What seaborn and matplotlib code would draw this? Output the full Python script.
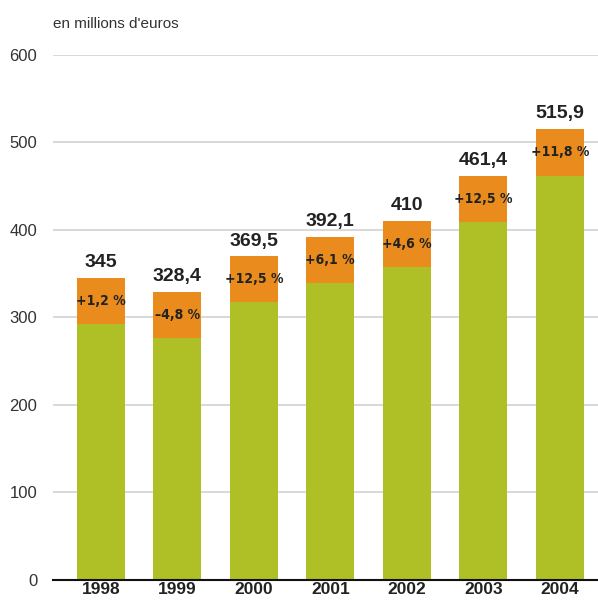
import matplotlib
matplotlib.use("Agg")
import matplotlib.pyplot as plt
import pandas as pd
import seaborn as sns

years = ["1998", "1999", "2000", "2001", "2002", "2003", "2004"]
totals = [345, 328.4, 369.5, 392.1, 410, 461.4, 515.9]
base = [292, 276, 317, 339, 357, 409, 462]
total_labels = ["345", "328,4", "369,5", "392,1", "410", "461,4", "515,9"]
pct_labels = ["+1,2 %", "–4,8 %", "+12,5 %", "+6,1 %", "+4,6 %", "+12,5 %", "+11,8 %"]

GREEN = "#afbf26"
ORANGE = "#ea8c1d"


def main() -> None:
    sns.set_theme(style="white")
    plt.rcParams["font.family"] = ["Liberation Sans", "DejaVu Sans"]

    df = pd.DataFrame({"year": years, "total": totals, "base": base})

    fig = plt.figure(figsize=(5.98, 6.0), dpi=100)
    ax = fig.add_axes([0.088, 1 - 579.5 / 600, 0.912, (579.5 - 55) / 600])

    # orange = total, green drawn over it
    sns.barplot(data=df, x="year", y="total", color=ORANGE, width=0.625,
                saturation=1, linewidth=0, ax=ax, zorder=2)
    sns.barplot(data=df, x="year", y="base", color=GREEN, width=0.625,
                saturation=1, linewidth=0, ax=ax, zorder=3)

    for i, (t, b) in enumerate(zip(totals, base)):
        ax.annotate(total_labels[i], (i, t), xytext=(0, 5), textcoords="offset points",
                    ha="center", va="bottom", fontsize=14, fontweight="bold",
                    color="#222222", zorder=5)
        ax.text(i, (t + b) / 2, pct_labels[i], ha="center", va="center",
                fontsize=10, fontweight="bold", color="#222222",
                family="DejaVu Sans", fontstretch="condensed", zorder=5)

    ax.set_ylim(0, 600)
    ax.set_xlim(-0.63, 6.5)
    ax.set_yticks(range(0, 601, 100))
    ax.yaxis.grid(True, color="#d6d6d6", linewidth=1.3, zorder=0)
    ax.set_axisbelow(True)
    for s in ("top", "right", "left"):
        ax.spines[s].set_visible(False)
    ax.spines["bottom"].set_color("#111111")
    ax.spines["bottom"].set_linewidth(1.5)
    ax.spines["bottom"].set_zorder(6)
    ax.set_xlabel("")
    ax.set_ylabel("")
    ax.tick_params(axis="y", length=0, pad=11, labelsize=12, labelcolor="#333333")
    ax.tick_params(axis="x", length=0, pad=2, labelsize=12.5, labelcolor="#222222")
    for lab in ax.get_xticklabels():
        lab.set_fontweight("bold")

    fig.text(0.088, 1 - 28 / 600, "en millions d'euros", fontsize=11,
             color="#333333", va="baseline", ha="left")

    fig.savefig("out.png", dpi=100)
    plt.close(fig)


if __name__ == "__main__":
    main()
